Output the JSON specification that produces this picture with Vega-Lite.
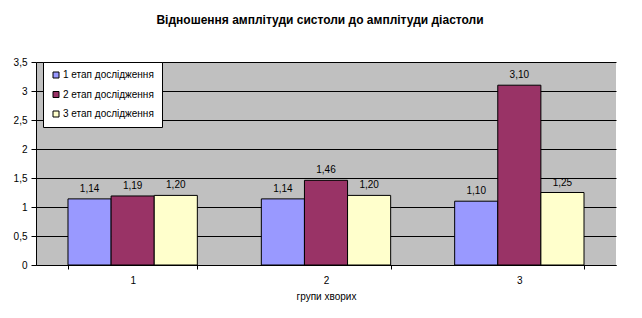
{
  "$schema": "https://vega.github.io/schema/vega-lite/v6.json",
  "autosize": "none",
  "width": 580,
  "height": 203,
  "padding": {"left": 36, "top": 62, "right": 26, "bottom": 53},
  "background": "white",
  "title": {
    "text": "Відношення амплітуди систоли до амплітуди діастоли",
    "font": "Liberation Sans",
    "fontSize": 12,
    "fontWeight": "bold",
    "color": "black",
    "anchor": "middle",
    "frame": "group",
    "dx": -6,
    "offset": 30
  },
  "config": {
    "font": "Liberation Sans",
    "view": {"stroke": null, "fill": "#C0C0C0"},
    "axis": {
      "labelFont": "Liberation Sans",
      "labelFontSize": 10,
      "labelColor": "black",
      "titleFont": "Liberation Sans",
      "titleFontSize": 10,
      "titleFontWeight": "normal",
      "titleColor": "black",
      "domainColor": "black",
      "tickColor": "black",
      "gridColor": "black",
      "gridOpacity": 1
    }
  },
  "data": {
    "values": [
      {"group": "1", "series": "1 етап дослідження", "value": 1.14, "label": "1,14"},
      {"group": "1", "series": "2 етап дослідження", "value": 1.19, "label": "1,19"},
      {"group": "1", "series": "3 етап дослідження", "value": 1.20, "label": "1,20"},
      {"group": "2", "series": "1 етап дослідження", "value": 1.14, "label": "1,14"},
      {"group": "2", "series": "2 етап дослідження", "value": 1.46, "label": "1,46"},
      {"group": "2", "series": "3 етап дослідження", "value": 1.20, "label": "1,20"},
      {"group": "3", "series": "1 етап дослідження", "value": 1.10, "label": "1,10"},
      {"group": "3", "series": "2 етап дослідження", "value": 3.10, "label": "3,10"},
      {"group": "3", "series": "3 етап дослідження", "value": 1.25, "label": "1,25"}
    ]
  },
  "encoding": {
    "x": {
      "field": "group",
      "type": "nominal",
      "scale": {"paddingInner": 0.331, "paddingOuter": 0.1655},
      "axis": {
        "title": "групи хворих",
        "labelAngle": 0,
        "tickBand": "extent",
        "tickSize": 4,
        "labelPadding": 6,
        "titlePadding": 6,
        "domain": true
      }
    },
    "xOffset": {
      "field": "series",
      "type": "nominal",
      "scale": {"paddingInner": 0, "paddingOuter": 0}
    },
    "y": {
      "field": "value",
      "type": "quantitative",
      "scale": {"domain": [0, 3.5], "nice": false},
      "axis": {
        "title": null,
        "values": [0, 0.5, 1, 1.5, 2, 2.5, 3, 3.5],
        "labelExpr": "replace(toString(datum.value), '.', ',')",
        "grid": true,
        "tickSize": 5,
        "labelPadding": 4
      }
    }
  },
  "layer": [
    {
      "mark": {"type": "bar", "stroke": "black", "strokeWidth": 1},
      "encoding": {
        "color": {
          "field": "series",
          "type": "nominal",
          "scale": {
            "domain": ["1 етап дослідження", "2 етап дослідження", "3 етап дослідження"],
            "range": ["#9999FF", "#993366", "#FFFFCC"]
          },
          "legend": {
            "title": null,
            "orient": "none",
            "legendX": 7,
            "legendY": 0,
            "fillColor": "white",
            "strokeColor": "black",
            "padding": 8,
            "symbolType": "square",
            "symbolSize": 36,
            "symbolStrokeColor": "black",
            "symbolStrokeWidth": 1,
            "symbolOpacity": 1,
            "labelFont": "Liberation Sans",
            "labelFontSize": 10,
            "labelColor": "black",
            "labelOffset": 2,
            "rowPadding": 9.5
          }
        }
      }
    },
    {
      "mark": {
        "type": "text",
        "baseline": "alphabetic",
        "dy": -7,
        "fontSize": 10,
        "font": "Liberation Sans",
        "color": "black"
      },
      "encoding": {
        "text": {"field": "label"}
      }
    }
  ]
}
